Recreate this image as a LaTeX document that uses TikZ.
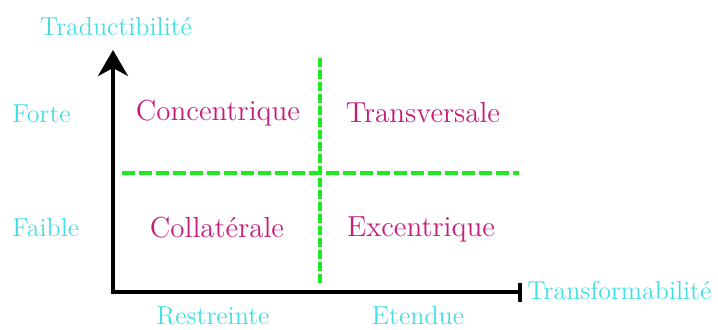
\documentclass[tikz,border=0pt]{standalone}
\usepackage{tikz}
\usetikzlibrary{arrows.meta}
\usetikzlibrary{positioning}
\definecolor{tcyan}{RGB}{64, 222, 226}
\definecolor{tmag}{RGB}{196, 28, 122}
\definecolor{tgreen}{RGB}{34, 232, 34}
\tikzset{axis/.style = {line width = 2pt, black}}
\tikzset{split/.style = {line width = 2pt, tgreen, dash pattern = on 5pt off 2pt}}
\tikzset{axlabel/.style = {text = tcyan, font = \fontsize{13}{15}\selectfont, inner sep = 0}}
\tikzset{zone/.style = {text = tmag, font = \fontsize{14.5}{16}\selectfont, inner sep = 0}}

\begin{document}
\begin{tikzpicture}[x = 0.5pt, y = -0.5pt]
    \useasboundingbox (0, 0) rectangle (718, 329);
    \coordinate (O) at (113, 292);
    \coordinate (ytop) at (113, 50);
    \coordinate (xend) at (522, 292);
    \coordinate (vtop) at (320, 58);
    \coordinate (vbot) at (320, 285);
    \coordinate (hleft) at (122, 173);
    \coordinate (hright) at (519, 173);
    \draw [split, dash pattern = on 4.5pt off 1.5pt] (vtop) -- (vbot);
    \draw [split, dash pattern = on 6.5pt off 2pt] (hleft) -- (hright);
    \draw [axis, {Stealth[length = 13pt, width = 15pt, inset = 4pt]}-{Bar[width = 9.5pt]}] (ytop) -- (O) -- (xend);
    \node [axlabel] (trad) at (116, 27) {Traductibilité};
    \node [axlabel, anchor = west] (trans) at (527, 290) {Transformabilité};
    \node [axlabel, anchor = west] (forte) at (12, 114) {Forte};
    \node [axlabel, anchor = west] (faible) at (12, 228) {Faible};
    \node [axlabel, anchor = base] (restr) at (213, 324) {Restreinte};
    \node [axlabel, anchor = base] (eten) at (418, 324) {Etendue};
    \node [zone] (conc) at (218, 113) {Concentrique};
    \node [zone] (transv) at (423, 113) {Transversale};
    \node [zone] (coll) at (217, 228) {Collatérale};
    \node [zone] (exc) at (421, 229) {Excentrique};
  \end{tikzpicture}
\end{document}
